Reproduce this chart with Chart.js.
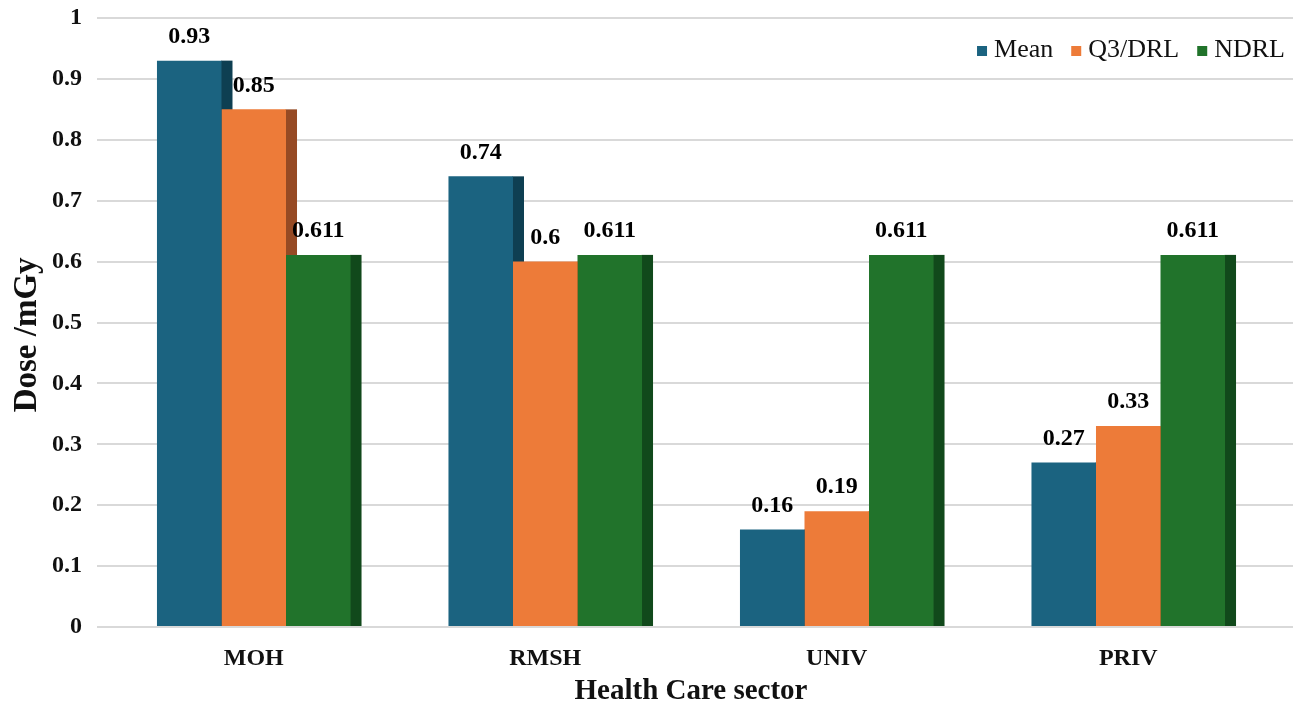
<!DOCTYPE html>
<html>
<head>
<meta charset="utf-8">
<script src="https://cdn.jsdelivr.net/npm/chart.js@4.4.1/dist/chart.umd.min.js"></script>
<style>
  html, body { margin: 0; padding: 0; background: #fff; }
  #wrap { width: 1293px; height: 706px; position: relative; }
</style>
</head>
<body>
<div id="wrap"><canvas id="myChart"></canvas></div>
<script>
// data
var sectors = ['MOH', 'RMSH', 'UNIV', 'PRIV'];
var meanVals = [0.93, 0.74, 0.16, 0.27];
var q3Vals = [0.85, 0.6, 0.19, 0.33];
var ndrlVals = [0.611, 0.611, 0.611, 0.611];
var yTickLabels = ['0', '0.1', '0.2', '0.3', '0.4', '0.5', '0.6', '0.7', '0.8', '0.9', '1'];

var serif = '"Liberation Serif", "Times New Roman", serif';
var gridColor = '#d9d9d9';

// darker right face of each bar (fake 3D side)
var sideColors = ['#0e3f52', '#964a24', '#11491b'];

// sides go first so the next bar's front covers them
var sidePlugin = {
  id: 'barSide',
  beforeDatasetsDraw: function(chart) {
    var ctx = chart.ctx;
    ctx.save();
    chart.data.datasets.forEach(function(ds, i) {
      ctx.fillStyle = sideColors[i];
      chart.getDatasetMeta(i).data.forEach(function(bar) {
        var p = bar.getProps(['x', 'y', 'base', 'width'], true);
        ctx.fillRect(p.x + p.width / 2 - 0.5, p.y, 11.5, p.base - p.y);
      });
    });
    ctx.restore();
  }
};

// value labels above the bars
var labelPlugin = {
  id: 'valueLabels',
  afterDatasetsDraw: function(chart) {
    var ctx = chart.ctx;
    ctx.save();
    ctx.font = 'bold 24px ' + serif;
    ctx.fillStyle = '#000';
    ctx.textAlign = 'center';
    ctx.textBaseline = 'middle';
    chart.data.datasets.forEach(function(ds, i) {
      var meta = chart.getDatasetMeta(i);
      meta.data.forEach(function(bar, j) {
        ctx.fillText(String(ds.data[j]), bar.x, bar.y - 24);
      });
    });
    ctx.restore();
  }
};

// legend inside the plot, top right
var legendPlugin = {
  id: 'cornerLegend',
  afterDraw: function(chart) {
    var ctx = chart.ctx;
    var right = 1285, cy = 50, box = 10, gap = 7, itemGap = 18;
    ctx.save();
    ctx.font = '26px ' + serif;
    ctx.textBaseline = 'middle';
    ctx.textAlign = 'left';
    var items = chart.data.datasets.map(function(ds) {
      return { text: ds.label, color: ds.backgroundColor, w: ctx.measureText(ds.label).width };
    });
    var total = 0;
    items.forEach(function(it, i) {
      total += box + gap + it.w + (i < items.length - 1 ? itemGap : 0);
    });
    var x = right - total;
    items.forEach(function(it) {
      ctx.fillStyle = it.color;
      ctx.fillRect(x, cy - box / 2 + 1, box, box);
      ctx.fillStyle = '#111';
      ctx.fillText(it.text, x + box + gap, cy);
      x += box + gap + it.w + itemGap;
    });
    ctx.restore();
  }
};

var ctx = document.getElementById('myChart').getContext('2d');
var myChart = new Chart(ctx, {
  type: 'bar',
  data: {
    labels: sectors,
    datasets: [
      { label: 'Mean', data: meanVals, backgroundColor: '#1b6380' },
      { label: 'Q3/DRL', data: q3Vals, backgroundColor: '#ed7b39' },
      { label: 'NDRL', data: ndrlVals, backgroundColor: '#21732b' }
    ]
  },
  plugins: [sidePlugin, labelPlugin, legendPlugin],
  options: {
    responsive: true,
    maintainAspectRatio: false,
    animation: false,
    layout: { padding: { top: 18, right: 0, bottom: 0, left: 0 } },
    datasets: {
      bar: { categoryPercentage: 0.664, barPercentage: 1.0 }
    },
    plugins: {
      tooltip: { enabled: false },
      legend: { display: false }
    },
    scales: {
      x: {
        grid: { display: false, drawTicks: false },
        border: { display: false },
        ticks: {
          color: '#111',
          padding: 17,
          font: { family: serif, size: 24, weight: 'bold' }
        },
        title: {
          display: true,
          text: 'Health Care sector',
          color: '#111',
          padding: { top: 0, bottom: 0 },
          font: { family: serif, size: 29, weight: 'bold', lineHeight: 1 }
        },
        afterFit: function(scale) { scale.height = 79; }
      },
      y: {
        min: 0,
        max: 1,
        grid: { color: gridColor, lineWidth: 2, tickLength: 11, tickColor: gridColor },
        border: { display: false },
        ticks: {
          stepSize: 0.1,
          padding: 15,
          color: '#111',
          font: { family: serif, size: 24, weight: 'bold' },
          callback: function(v, i) { return yTickLabels[i]; }
        },
        title: {
          display: true,
          text: 'Dose /mGy\u00a0\u00a0\u00a0',
          color: '#111',
          padding: { top: 11, bottom: 0 },
          font: { family: serif, size: 33, weight: 'bold', lineHeight: 1 }
        },
        afterFit: function(scale) {
          scale.width = 108;
          scale.paddingTop = 0;
        }
      },
      y2: {
        position: 'right',
        min: 0,
        max: 1,
        grid: { color: gridColor, lineWidth: 2, tickLength: 19, tickColor: gridColor, drawOnChartArea: false },
        border: { display: false },
        ticks: { stepSize: 0.1, display: false },
        afterFit: function(scale) {
          scale.width = 19;
          scale.paddingTop = 0;
        }
      }
    }
  }
});
</script>
</body>
</html>
